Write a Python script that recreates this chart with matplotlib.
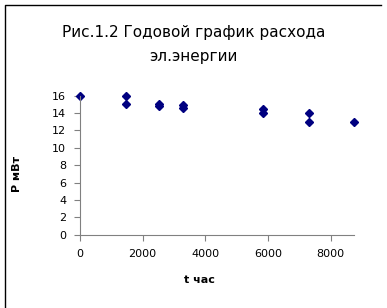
import matplotlib.pyplot as plt
from matplotlib.lines import Line2D

# hours of the year and load, MW
t_hours = [0, 1460, 1460, 2530, 2530, 3300, 3300, 5830, 5830, 7310, 7310, 8760]
p_mw = [16.0, 16.0, 15.0, 15.1, 14.8, 14.9, 14.6, 14.5, 14.0, 14.0, 13.0, 13.0]
x_ticks = [0, 2000, 4000, 6000, 8000]
y_ticks = [0, 2, 4, 6, 8, 10, 12, 14, 16]

fig = plt.figure(figsize=(3.87, 3.08), dpi=100)
# frame: only top and left edges are visible in the picture
fig.lines.append(Line2D([5 / 387, 5 / 387, 380.5 / 387], [0, 1 - 4.5 / 308, 1 - 4.5 / 308],
                        transform=fig.transFigure, color='black', linewidth=1.0))

ax = fig.add_axes([80 / 387, 1 - 234.7 / 308, 274.3 / 387, 139 / 308])
ax.plot(t_hours, p_mw, 'D', color='#000080', markersize=4.5, clip_on=False)

ax.set_xlim(0, 8760)
ax.set_ylim(0, 16)
ax.set_xticks(x_ticks)
ax.set_yticks(y_ticks)
for s in ['top', 'right']:
    ax.spines[s].set_visible(False)
for s in ['left', 'bottom']:
    ax.spines[s].set_color('#808080')
ax.tick_params(direction='out', length=4, color='#808080', labelsize=8, pad=6)

ax.set_xlabel('t час', fontsize=8, fontweight='bold')
ax.xaxis.set_label_coords(0.435, -0.29)
ax.set_ylabel('Р мВт', fontsize=8, fontweight='bold')
ax.yaxis.set_label_coords(-0.213, 0.437)

fig.text(0.5, 1 - 33 / 308, 'Рис.1.2 Годовой график расхода', ha='center', va='center', fontsize=11)
fig.text(0.5, 1 - 57 / 308, 'эл.энергии', ha='center', va='center', fontsize=11)

fig.savefig('out.png', dpi=100)
